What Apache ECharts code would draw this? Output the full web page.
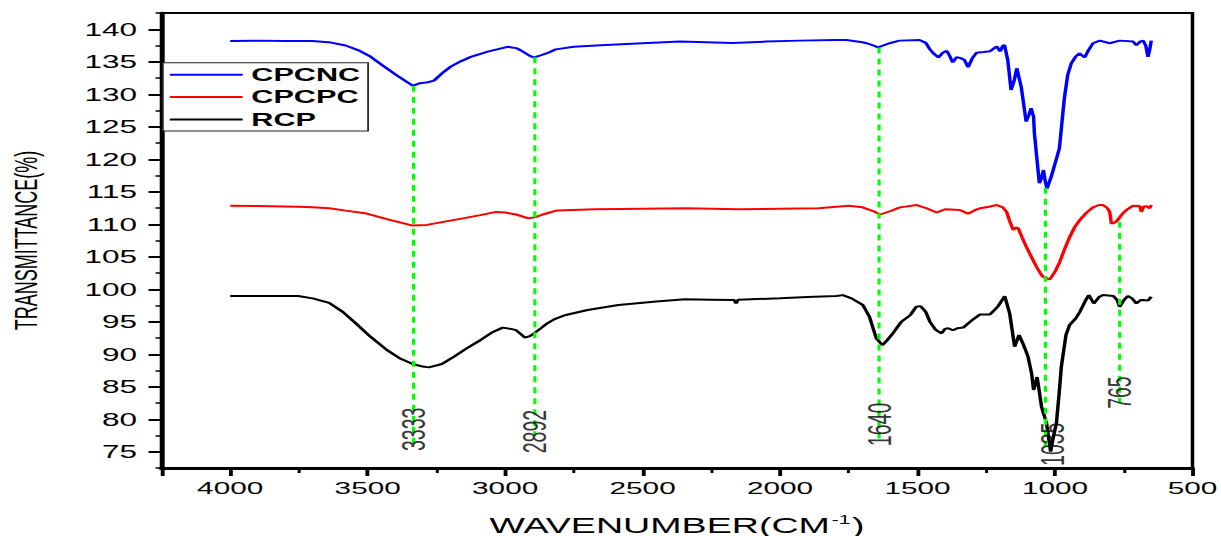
<!DOCTYPE html>
<html>
<head>
<meta charset="utf-8">
<title>FTIR</title>
<script src="https://cdn.jsdelivr.net/npm/echarts@6/dist/echarts.min.js"></script>
<style>
  html, body { margin: 0; padding: 0; background: #fff; overflow: hidden; }
  /* the original figure is stretched sideways, so draw narrow and stretch */
  #main { width: 698px; height: 536px; transform: scaleX(1.7493); transform-origin: 0 0; }
</style>
</head>
<body>
<div id="main"></div>
<script>
// spectra, [wavenumber, transmittance]
var cpcnc = [
  [4000,138.2],[3900,138.25],[3800,138.2],[3700,138.2],[3633,137.95],[3580,137.5],[3535,136.8],
  [3490,135.8],[3441,134.3],[3390,132.8],[3335,131.3],[3310,131.7],[3281,131.85],[3259,132.1],
  [3230,133.2],[3198,134.25],[3160,135.1],[3125,135.75],[3060,136.6],[2991,137.3],[2960,137.1],
  [2943,136.75],[2910,135.9],[2896,135.65],[2870,136.0],[2845,136.35],[2816,136.9],[2750,137.3],
  [2653,137.55],[2500,137.85],[2365,138.1],[2172,137.9],[2050,138.1],[1929,138.25],[1800,138.35],
  [1759,138.35],[1700,138.0],[1686,137.85],[1660,137.5],[1644,137.2],[1602,137.85],[1566,138.25],
  [1493,138.35],[1470,137.9],[1455,136.9],[1440,136.2],[1424,135.65],[1408,136.4],[1394,136.7],
  [1382,135.8],[1372,134.9],[1358,135.7],[1346,135.6],[1330,135.3],[1316,134.15],[1300,135.6],
  [1285,136.4],[1260,136.5],[1237,136.6],[1212,137.35],[1200,136.6],[1190,137.4],[1184,137.6],
  [1172,135.3],[1160,130.65],[1148,132.2],[1139,134.0],[1123,131.15],[1105,125.8],[1095,126.8],
  [1087,127.85],[1078,126.55],[1075,124.0],[1063,118.85],[1057,116.3],[1050,117.0],[1042,118.35],
  [1035,116.5],[1029,115.5],[1014,117.3],[996,119.9],[984,121.7],[974,126.05],[966,129.4],
  [954,132.95],[941,134.75],[925,135.8],[911,136.3],[892,135.65],[878,136.8],[862,137.85],
  [837,138.25],[801,137.85],[765,138.25],[716,138.1],[704,137.55],[690,138.1],[680,138.25],
  [670,137.5],[662,135.75],[655,137.0],[650,138.25]
];
var cpcpc = [
  [4000,112.85],[3900,112.8],[3753,112.7],[3700,112.6],[3640,112.45],[3580,112.1],[3510,111.7],
  [3430,110.8],[3336,109.8],[3284,109.9],[3220,110.4],[3154,110.9],[3090,111.4],[3033,111.9],
  [3000,111.8],[2960,111.5],[2915,110.9],[2890,111.1],[2863,111.5],[2814,112.1],[2670,112.3],
  [2500,112.4],[2346,112.45],[2151,112.3],[2000,112.4],[1860,112.45],[1750,112.85],[1700,112.6],
  [1660,112.0],[1636,111.5],[1600,112.0],[1564,112.6],[1503,112.96],[1470,112.5],[1430,111.8],
  [1400,112.3],[1346,112.2],[1316,111.6],[1290,112.2],[1273,112.45],[1240,112.7],[1212,112.96],
  [1190,112.6],[1176,111.9],[1165,110.5],[1152,109.1],[1143,109.5],[1134,109.4],[1120,108.0],
  [1104,106.5],[1085,104.9],[1068,103.5],[1055,102.6],[1044,101.9],[1030,101.7],[1019,101.5],
  [1000,102.7],[983,104.2],[965,106.2],[946,108.1],[928,109.6],[910,110.65],[885,111.8],
  [862,112.6],[840,112.96],[825,112.96],[810,112.5],[801,111.9],[795,110.1],[785,110.2],
  [775,110.5],[755,111.6],[740,112.2],[716,112.85],[692,112.8],[686,111.9],[678,112.7],
  [668,112.8],[656,112.45],[650,112.96]
];
var rcp = [
  [4000,98.95],[3900,98.95],[3753,98.95],[3700,98.6],[3640,97.9],[3590,96.5],[3543,94.75],
  [3490,92.7],[3430,90.65],[3380,89.3],[3336,88.5],[3300,88.1],[3277,87.98],[3230,88.5],
  [3187,89.6],[3140,90.9],[3089,92.2],[3050,93.3],[3009,94.1],[2980,93.9],[2960,93.7],
  [2940,93.0],[2928,92.55],[2910,92.8],[2895,93.2],[2870,94.0],[2847,94.75],[2820,95.4],
  [2783,96.0],[2700,96.8],[2588,97.57],[2450,98.1],[2346,98.45],[2250,98.4],[2167,98.34],
  [2160,97.8],[2153,98.4],[2000,98.6],[1900,98.8],[1795,98.95],[1772,99.1],[1740,98.6],
  [1699,97.57],[1675,95.77],[1650,92.45],[1628,91.4],[1610,92.2],[1590,93.2],[1559,95.0],
  [1527,96.0],[1505,97.3],[1489,97.4],[1470,96.5],[1455,95.0],[1435,93.8],[1413,93.2],
  [1400,93.9],[1389,94.0],[1371,93.7],[1355,94.0],[1334,94.1],[1300,95.3],[1274,96.1],
  [1237,96.1],[1220,96.8],[1207,97.4],[1183,98.95],[1165,96.3],[1147,91.15],[1131,92.95],
  [1115,91.5],[1098,89.6],[1085,87.0],[1078,84.5],[1065,86.5],[1049,81.9],[1031,79.4],
  [1016,75.0],[1005,77.5],[995,79.4],[985,84.0],[977,88.1],[960,93.0],[947,94.5],[925,95.5],
  [910,96.5],[890,98.2],[877,99.1],[859,97.8],[840,98.8],[825,99.1],[788,98.95],[775,98.4],
  [765,97.3],[750,98.3],[735,98.95],[720,98.6],[704,97.8],[690,98.3],[680,98.35],[662,98.25],
  [650,98.85]
];

// marked bands: wavenumber, top of the drop line, bottom of the drop line
var peakWn  = [3333, 2892, 1640, 1035, 765];
var peakTop = [131.3, 135.7, 137.2, 115.6, 110.4];
var peakEnd = [75.5, 77.5, 77.0, 75.0, 82.5];
var peakLabels = ['3333', '2892', '1640', '1035', '765'];

var xTicks = [500, 1000, 1500, 2000, 2500, 3000, 3500, 4000];
var yTicks = [75, 80, 85, 90, 95, 100, 105, 110, 115, 120, 125, 130, 135, 140];

var font = "'Liberation Sans', Arial, sans-serif";

var chart = echarts.init(document.getElementById('main'), null, { renderer: 'svg' });

var series = [
  { name: 'CPCNC', color: '#0000ff', data: cpcnc },
  { name: 'CPCPC', color: '#ff0000', data: cpcpc },
  { name: 'RCP', color: '#000000', data: rcp }
].map(function (s) {
  return {
    name: s.name,
    type: 'line',
    data: s.data,
    symbol: 'none',
    z: 3,
    itemStyle: { color: s.color },
    lineStyle: { color: s.color, width: 2 }
  };
});

// green dashed drop lines
peakWn.forEach(function (wn, i) {
  series.push({
    type: 'line',
    data: [[wn, peakTop[i]], [wn, peakEnd[i]]],
    symbol: 'none',
    silent: true,
    z: 4,
    lineStyle: { color: '#00ff00', width: 1.8, type: [6, 5] }
  });
});

// label placement along each drop line (1035 sits a little to the right)
var labelAt = { '3333': [3333, 78.45], '2892': [2892, 78.1], '1640': [1640, 79.2], '1035': [1008, 76.15], '765': [765, 84.1] };
series.push({
  type: 'scatter',
  symbolSize: 1,
  z: 5,
  silent: true,
  itemStyle: { color: 'rgba(0,0,0,0)' },
  label: {
    show: true,
    position: 'inside',
    rotate: 90,
    formatter: '{b}',
    color: '#000',
    fontFamily: font,
    fontSize: 19.5
  },
  data: peakLabels.map(function (t) { return { name: t, value: labelAt[t] }; })
});

var option = {
  animation: false,
  backgroundColor: '#fff',
  grid: {
    left: 92.3, right: 16.3, top: 13, bottom: 68,
    outerBoundsMode: 'none',
    show: true, borderColor: '#000', borderWidth: 2
  },
  legend: {
    data: ['CPCNC', 'CPCPC', 'RCP'],
    orient: 'vertical',
    left: 93.1,
    top: 62.7,
    icon: 'rect',
    itemWidth: 41.6,
    itemHeight: 2,
    itemGap: 4.4,
    padding: [3, 4.5, 2.5, 4],
    borderColor: '#222',
    borderWidth: 1,
    backgroundColor: '#fff',
    textStyle: { fontFamily: font, fontWeight: 'bold', fontSize: 17.5, color: '#000' }
  },
  xAxis: {
    type: 'value',
    inverse: true,
    min: 500,
    max: 4250,
    interval: 500,
    name: 'WAVENUMBER(CM{sup|-1})',
    nameLocation: 'middle',
    nameGap: 46,
    nameTextStyle: {
      fontFamily: font, fontSize: 21.5, color: '#000',
      rich: { sup: { fontFamily: font, fontSize: 12, color: '#000', verticalAlign: 'top', padding: [0, 1, 10, 1] } }
    },
    axisLine: { onZero: false, lineStyle: { color: '#000', width: 3 } },
    axisTick: { length: 8, lineStyle: { color: '#000', width: 2.2 } },
    minorTick: { show: true, splitNumber: 2, length: 5, lineStyle: { color: '#000', width: 1.7 } },
    splitLine: { show: false },
    axisLabel: {
      margin: 12, fontFamily: font, fontSize: 17, color: '#000',
      customValues: xTicks,
      formatter: function (v) { return String(v); }
    }
  },
  yAxis: [{
    type: 'value',
    min: 72.5,
    max: 142.5,
    interval: 2.5,
    name: 'TRANSMITTANCE(%)',
    nameLocation: 'middle',
    nameGap: 68.5,
    nameTextStyle: { fontFamily: font, fontSize: 18, color: '#000' },
    axisLine: { onZero: false, lineStyle: { color: '#000', width: 2.3 } },
    axisTick: { length: 3.4, lineStyle: { color: '#000', width: 1.5 } },
    splitLine: { show: false },
    axisLabel: {
      margin: 14, fontFamily: font, fontSize: 18, color: '#000',
      customValues: yTicks
    }
  }, {
    // longer ticks at the labelled values
    type: 'value',
    position: 'left',
    min: 72.5,
    max: 142.5,
    axisLine: { show: false },
    axisTick: { length: 7.4, customValues: yTicks, lineStyle: { color: '#000', width: 2 } },
    axisLabel: { show: false },
    splitLine: { show: false }
  }],
  series: series
};

chart.setOption(option);
</script>
</body>
</html>
